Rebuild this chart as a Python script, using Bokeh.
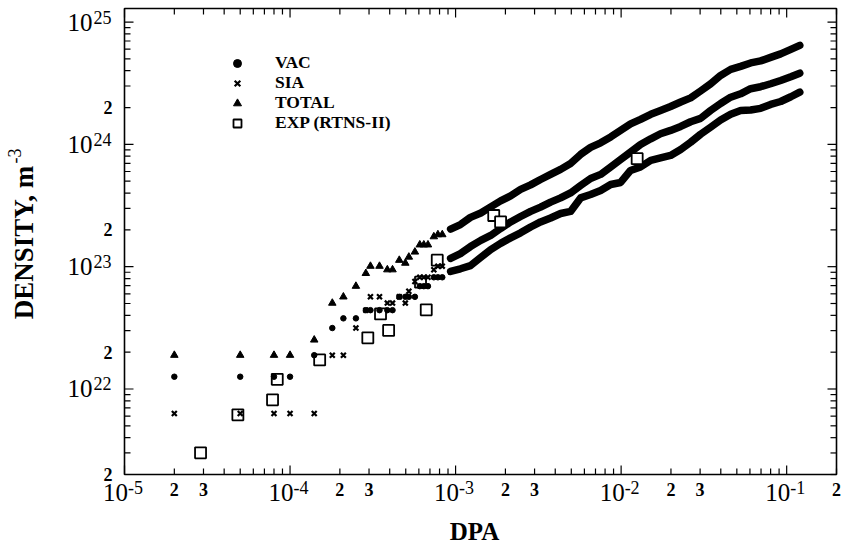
import math
from bokeh.plotting import figure
from bokeh.models import Legend, LegendItem, Range1d, BoxAnnotation, Arrow, ColumnDataSource
from bokeh.core.properties import value
from bokeh.embed import file_html
from bokeh.resources import INLINE

# ---------------- data ----------------
# sparse (quantized) early simulation points
dpa_sparse = [2.0e-5, 5.0e-5, 8.0e-5, 1.0e-4, 1.4e-4, 1.8e-4, 2.1e-4, 2.5e-4, 2.87e-4, 3.06e-4,
              3.47e-4, 3.87e-4, 4.16e-4, 4.57e-4, 4.97e-4, 5.22e-4, 5.68e-4, 6.08e-4, 6.43e-4,
              6.81e-4, 7.39e-4, 7.82e-4, 8.31e-4]
total_sparse = [1.89e22, 1.89e22, 1.89e22, 1.89e22, 2.52e22, 5.04e22, 5.67e22, 6.93e22, 8.82e22,
                1.01e23, 1.01e23, 9.45e22, 9.45e22, 1.13e23, 1.07e23, 1.20e23, 1.32e23, 1.51e23,
                1.51e23, 1.51e23, 1.76e23, 1.83e23, 1.83e23]
vac_sparse = [1.26e22, 1.26e22, 1.26e22, 1.26e22, 1.89e22, 3.15e22, 3.78e22, 3.78e22, 4.41e22,
              4.41e22, 4.41e22, 4.41e22, 4.41e22, 5.67e22, 5.67e22, 5.67e22, 5.67e22, 6.93e22,
              6.93e22, 6.93e22, 8.19e22, 8.19e22, 8.19e22]
sia_sparse = [6.3e21, 6.3e21, 6.3e21, 6.3e21, 6.3e21, 1.89e22, 1.89e22, 3.15e22, 4.41e22,
              5.67e22, 5.67e22, 5.04e22, 5.04e22, 5.67e22, 5.04e22, 6.3e22, 7.56e22, 8.19e22,
              8.19e22, 8.19e22, 9.45e22, 1.01e23, 1.01e23]

# dense part of the simulation curves
dpa_curve = [9.33e-4, 1.07e-3, 1.23e-3, 1.42e-3, 1.63e-3, 1.87e-3, 2.15e-3, 2.47e-3, 2.84e-3,
             3.26e-3, 3.75e-3, 4.31e-3, 4.95e-3, 5.69e-3, 6.54e-3, 7.52e-3, 8.65e-3, 9.93e-3,
             1.14e-2, 1.31e-2, 1.51e-2, 1.73e-2, 1.99e-2, 2.29e-2, 2.63e-2, 3.02e-2, 3.47e-2,
             3.99e-2, 4.59e-2, 5.27e-2, 6.06e-2, 6.96e-2, 8.00e-2, 9.20e-2, 1.06e-1, 1.20e-1]
total_curve = [2.03e23, 2.21e23, 2.53e23, 2.75e23, 3.08e23, 3.45e23, 3.79e23, 4.28e23, 4.66e23,
               5.16e23, 5.68e23, 6.24e23, 6.98e23, 8.27e23, 9.44e23, 1.03e24, 1.15e24, 1.30e24,
               1.47e24, 1.60e24, 1.76e24, 1.89e24, 2.04e24, 2.22e24, 2.40e24, 2.73e24, 3.12e24,
               3.66e24, 4.10e24, 4.34e24, 4.63e24, 4.81e24, 5.14e24, 5.49e24, 5.97e24, 6.44e24]
sia_curve = [1.17e23, 1.28e23, 1.46e23, 1.64e23, 1.80e23, 2.05e23, 2.32e23, 2.57e23, 2.83e23,
             3.07e23, 3.37e23, 3.65e23, 4.01e23, 4.61e23, 5.26e23, 5.68e23, 6.54e23, 7.53e23,
             8.64e23, 9.98e23, 1.11e24, 1.22e24, 1.30e24, 1.40e24, 1.53e24, 1.63e24, 1.89e24,
             2.16e24, 2.43e24, 2.59e24, 2.85e24, 2.96e24, 3.13e24, 3.33e24, 3.57e24, 3.82e24]
vac_curve = [9.14e22, 9.61e22, 1.02e23, 1.19e23, 1.38e23, 1.55e23, 1.72e23, 1.89e23, 2.11e23,
             2.32e23, 2.50e23, 2.72e23, 2.83e23, 3.65e23, 3.89e23, 4.20e23, 4.70e23, 4.88e23,
             6.12e23, 6.54e23, 7.39e23, 7.74e23, 8.12e23, 9.09e23, 1.04e24, 1.21e24, 1.38e24,
             1.58e24, 1.76e24, 1.89e24, 1.91e24, 1.97e24, 2.12e24, 2.24e24, 2.45e24, 2.67e24]

# experimental points (RTNS-II)
exp_dpa = [2.88e-5, 4.84e-5, 7.84e-5, 8.37e-5, 1.51e-4, 2.95e-4, 3.52e-4, 3.94e-4, 6.14e-4,
           6.65e-4, 7.75e-4, 1.70e-3, 1.87e-3, 1.25e-2]
exp_density = [3.01e21, 6.15e21, 8.16e21, 1.20e22, 1.73e22, 2.62e22, 4.11e22, 3.01e22, 7.47e22,
               4.44e22, 1.13e23, 2.62e23, 2.32e23, 7.63e23]

# axis ticks / labels
x_decades = [1e-5, 1e-4, 1e-3, 1e-2, 1e-1]
x_decade_exps = ["-5", "-4", "-3", "-2", "-1"]
x_minor_label_vals = [2e-5, 3e-5, 2e-4, 3e-4, 2e-3, 3e-3, 2e-2, 3e-2, 2e-1]
x_minor_label_txt = ["2", "3", "2", "3", "2", "3", "2", "3", "2"]
y_decades = [1e22, 1e23, 1e24, 1e25]
y_decade_exps = ["22", "23", "24", "25"]
y_minor_label_vals = [2e21, 2e22, 2e23, 2e24]
y_minor_label_txt = ["2", "2", "2", "2"]

series_names = ["VAC", "SIA", "TOTAL", "EXP (RTNS-II)"]
x_title = "DPA"
y_title = "DENSITY, m"
y_title_exp = "-3"

# ---------------- layout ----------------
W, H = 843, 546
BOX_L, BOX_R, BOX_T, BOX_B = 124, 836, 8, 474
X0, X1 = 1e-5, 2e-1
Y0, Y1 = 2e21, 1.29e25
FONT = "Liberation Serif"

ppd_x = (BOX_R - BOX_L) / (math.log10(X1) - math.log10(X0))
ppd_y = (BOX_B - BOX_T) / (math.log10(Y1) - math.log10(Y0))
xr = Range1d(10 ** (math.log10(X0) - BOX_L / ppd_x), 10 ** (math.log10(X1) + (W - BOX_R) / ppd_x))
yr = Range1d(10 ** (math.log10(Y0) - (H - BOX_B) / ppd_y), 10 ** (math.log10(Y1) + BOX_T / ppd_y))

p = figure(width=W, height=H, x_axis_type="log", y_axis_type="log",
           x_range=xr, y_range=yr, x_axis_location=None, y_axis_location=None,
           output_backend="svg", toolbar_location=None,
           min_border=0, min_border_left=0, min_border_right=0,
           min_border_top=0, min_border_bottom=0)
p.title_location = None
p.xgrid.visible = False
p.ygrid.visible = False
p.outline_line_color = None
p.background_fill_color = "white"
p.border_fill_color = "white"


def minors(decs, lo, hi):
    out = []
    for d in decs:
        for k in range(2, 10):
            v = d * k
            if lo * 0.9999 <= v <= hi * 1.0001:
                out.append(v)
    return out


x_minor_ticks = minors([1e-5, 1e-4, 1e-3, 1e-2, 1e-1], X0, X1)
y_minor_ticks = minors([1e21, 1e22, 1e23, 1e24, 1e25], Y0, Y1)

# ---------------- data glyphs ----------------
for yc in (total_curve, sia_curve, vac_curve):
    p.line(dpa_curve, yc, line_color="black", line_width=7.5, line_join="round", line_cap="round")

r_exp = p.scatter(exp_dpa, exp_density, marker="square", size=11, fill_color="white",
                  line_color="black", line_width=1.8)
r_vac = p.scatter(dpa_sparse, vac_sparse, marker="circle", size=5.5, color="black")
r_sia = p.scatter(dpa_sparse, sia_sparse, marker="x", size=7, line_color="black", line_width=2.2)
r_tot = p.scatter(dpa_sparse, total_sparse, marker="triangle", size=7.5, color="black")


# ---------------- frame box and inward ticks (annotations) ----------------
def fx(px):
    return 10 ** (px / ppd_x)


def fy(px):
    return 10 ** (px / ppd_y)


p.add_layout(BoxAnnotation(left=X0, right=X1, bottom=Y0, top=Y1, fill_color=None, fill_alpha=0,
                           line_color="black", line_width=1.6, line_alpha=1.0))

tx0, ty0, tx1, ty1 = [], [], [], []
for ticks, ln in ((x_decades, 9), (x_minor_ticks, 6)):
    for t in ticks:
        tx0 += [t, t]
        tx1 += [t, t]
        ty0 += [Y0, Y1]
        ty1 += [Y0 * fy(ln), Y1 / fy(ln)]
for ticks, ln in ((y_decades, 9), (y_minor_ticks, 6)):
    for t in ticks:
        tx0 += [X0, X1]
        tx1 += [X0 * fx(ln), X1 / fx(ln)]
        ty0 += [t, t]
        ty1 += [t, t]
tick_src = ColumnDataSource(data=dict(x0=tx0, y0=ty0, x1=tx1, y1=ty1))
p.add_layout(Arrow(end=None, x_start="x0", y_start="y0", x_end="x1", y_end="y1",
                   source=tick_src, line_color="black", line_width=1.2))

# one legend per row so the rows sit at the reference's tight spacing
ITEM_H = 22
row_centers = [62.5, 82.5, 102.5, 122.5]
for name, rend, c in zip(series_names, [r_vac, r_sia, r_tot, r_exp], row_centers):
    lg = Legend(items=[LegendItem(label=name, renderers=[rend])],
                location=(227, H - (c + ITEM_H / 2)), orientation="vertical",
                glyph_width=20, glyph_height=ITEM_H, label_height=ITEM_H, spacing=0,
                label_standoff=28, padding=0, margin=0,
                border_line_color=None, background_fill_alpha=0,
                label_text_font=FONT, label_text_font_style="bold", label_text_font_size="17.5px",
                label_text_color="black")
    p.add_layout(lg, "center")

# ---------------- tick labels (text glyphs; offsets in screen px, +y is down) ----------------
n = len(x_decades)
p.text(x=x_decades, y=[Y0] * n, text=["10"] * n, text_font=value(FONT), text_font_size="25px",
       text_align="right", text_baseline="middle", x_offset=3.5, y_offset=17.5, text_color="black")
p.text(x=x_decades, y=[Y0] * n, text=x_decade_exps, text_font=value(FONT), text_font_size="18px",
       text_align="left", text_baseline="middle", x_offset=3.5, y_offset=12.5, text_color="black")
m = len(x_minor_label_vals)
p.text(x=x_minor_label_vals, y=[Y0] * m, text=x_minor_label_txt, text_font=value(FONT),
       text_font_size="18px", text_font_style="bold", text_align="center", text_baseline="middle",
       y_offset=14.5, text_color="black")
k = len(y_decades)
p.text(x=[X0] * k, y=y_decades, text=["10"] * k, text_font=value(FONT), text_font_size="25px",
       text_align="right", text_baseline="middle", x_offset=-32, y_offset=0, text_color="black")
p.text(x=[X0] * k, y=y_decades, text=y_decade_exps, text_font=value(FONT), text_font_size="18px",
       text_align="left", text_baseline="middle", x_offset=-31, y_offset=-5, text_color="black")
j = len(y_minor_label_vals)
p.text(x=[X0] * j, y=y_minor_label_vals, text=y_minor_label_txt, text_font=value(FONT),
       text_font_size="18px", text_font_style="bold", text_align="right", text_baseline="middle",
       x_offset=-12, y_offset=0, text_color="black")

# ---------------- axis titles ----------------
p.text(x=[X0], y=[Y0], text=[x_title], text_font=value(FONT), text_font_size="25px",
       text_font_style="bold", text_align="center", text_baseline="middle",
       x_offset=350, y_offset=57, text_color="black")
p.text(x=[X0], y=[Y0], text=[y_title], text_font=value(FONT), text_font_size="27px",
       text_font_style="bold", text_align="center", text_baseline="middle",
       angle=math.pi / 2, x_offset=-101, y_offset=-232, text_color="black")
p.text(x=[X0], y=[Y0], text=[y_title_exp], text_font=value(FONT), text_font_size="18px",
       text_align="left", text_baseline="middle",
       angle=math.pi / 2, x_offset=-110, y_offset=-311, text_color="black")

open("out.html", "w").write(file_html(p, INLINE))
